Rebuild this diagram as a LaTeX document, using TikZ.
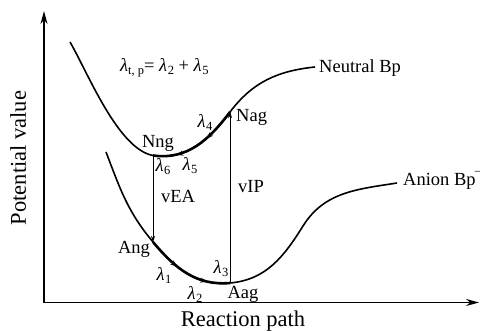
\documentclass[tikz,border=0pt]{standalone}
\usepackage{fontspec}
\setmainfont{Liberation Serif}
\usetikzlibrary{arrows.meta,decorations.markings}
\newcommand{\lm}[1]{\textit{λ}\kern0.03em\raisebox{-0.35ex}{\fontsize{12.5}{12.5}\selectfont #1}}
\tikzset{
  lbl/.style={font=\fontsize{18.5}{22}\selectfont, inner sep=0pt},
  axlbl/.style={font=\fontsize{22.5}{26}\selectfont, inner sep=0pt},
  axisline/.style={line width=1.3pt},
  curve/.style={line width=1.6pt},
  relax/.style={line width=2.6pt, postaction={decorate},
    decoration={markings,
      mark=at position 0.38 with {\arrow{Stealth[length=7pt,width=5pt]}},
      mark=at position 0.75 with {\arrow{Stealth[length=7pt,width=5pt]}}}},
  vert/.style={line width=0.7pt, -{Stealth[length=6pt,width=4pt]}}
}
\begin{document}
\begin{tikzpicture}[x=1pt,y=1pt]
\useasboundingbox (0,0) rectangle (480,331);
% axes
\coordinate (O) at (44,28.5);
\coordinate (Ytip) at (44,320);
\coordinate (Xtip) at (479,28.5);
\draw[axisline, {Stealth[length=13pt,width=7pt]}-{Stealth[length=13pt,width=7pt]}] (Ytip) -- (O) -- (Xtip);
\node[axlbl, rotate=90, anchor=base] (ylab) at (26,173) {Potential value};
\node[axlbl, anchor=base] (xlab) at (243,4) {Reaction path};
% neutral curve
\coordinate (N0) at (70,289);
\coordinate (Nng) at (153,175.5);
\coordinate (Nag) at (230,219);
\coordinate (N1) at (315,264);
\draw[curve] (N0) .. controls (88,258) and (118,182) .. (Nng) to[out=-8,in=233] (Nag) to[out=53,in=186] (N1);
\draw[relax] (Nag) to[out=233,in=-8] (Nng);
% anion curve
\coordinate (A0) at (106,179);
\coordinate (Ang) at (153,89);
\coordinate (Aag) at (230,48);
\coordinate (A1) at (303,105);
\coordinate (A2) at (397,148);
\draw[curve] (A0) to[out=-69,in=130] (Ang) to[out=-50,in=185] (Aag) to[out=5,in=238] (A1) to[out=58,in=189] (A2);
\draw[relax] (Ang) to[out=-50,in=185] (Aag);
% vertical transitions
\draw[vert] (Nng) -- (Ang);
\draw[vert] (Aag) -- (Nag);
% labels
\node[lbl, anchor=base west] (form) at (120,259) {\textit{λ}\raisebox{-0.35ex}{\fontsize{12.5}{12.5}\selectfont t, p}= \lm{2} + \lm{5}};
\node[lbl, anchor=base west] (neu) at (319,258) {Neutral Bp};
\node[lbl, anchor=base west] (ani) at (403,145) {Anion Bp\kern-0.04em\raisebox{0.6em}{\fontsize{12}{12}\selectfont –}};
\node[lbl, anchor=base] (nnglab) at (158,183) {Nng};
\node[lbl, anchor=base west] (naglab) at (236,209) {Nag};
\node[lbl, anchor=base] (l4) at (205,203) {\lm{4}};
\node[lbl, anchor=base] (l6) at (163,159) {\lm{6}};
\node[lbl, anchor=base] (l5) at (190,160) {\lm{5}};
\node[lbl, anchor=base] (vea) at (178,128) {vEA};
\node[lbl, anchor=base] (vip) at (251,138) {vIP};
\node[lbl, anchor=base] (anglab) at (134,77) {Ang};
\node[lbl, anchor=base] (l1) at (164,50) {\lm{1}};
\node[lbl, anchor=base] (l2) at (195,31) {\lm{2}};
\node[lbl, anchor=base] (l3) at (221,57) {\lm{3}};
\node[lbl, anchor=base] (aaglab) at (243,32) {Aag};
\end{tikzpicture}
\end{document}
